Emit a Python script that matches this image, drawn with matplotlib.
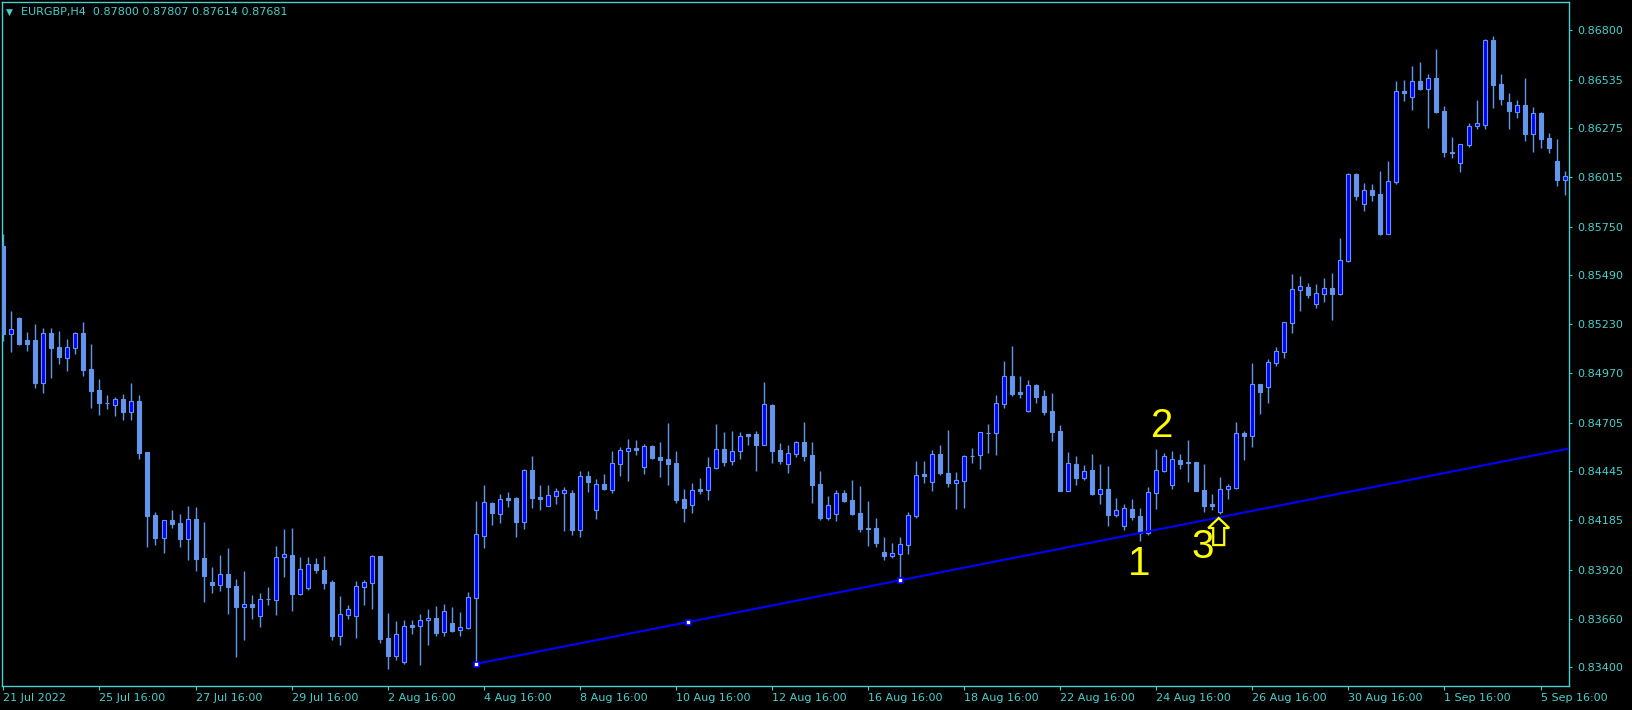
import matplotlib
matplotlib.use("Agg")
import matplotlib.pyplot as plt
from matplotlib import transforms
from matplotlib.patches import Polygon

# colours of the terminal scheme
fg = "#48D1CC"       # frame, ticks, text
bull_fill = "#0000FF"
bear_fill = "#6495ED"
wick_col = "#6495ED"
line_col = "#0000FF"
note_col = "#FFFF00"

symbol = "EURGBP,H4"
last_ohlc = ["0.87800", "0.87807", "0.87614", "0.87681"]

# H4 bars, 21 Jul 2022 16:00 .. 6 Sep 2022 04:00
opens = [
    0.85648, 0.85180, 0.85263, 0.85144, 0.85146, 0.84918, 0.85183, 0.85109, 0.85052, 0.85105,
    0.85183, 0.84991, 0.84879, 0.84812, 0.84799, 0.84831, 0.84764, 0.84821, 0.84549, 0.84211,
    0.84091, 0.84184, 0.84170, 0.84086, 0.84191, 0.83983, 0.83855, 0.83841, 0.83898, 0.83834,
    0.83723, 0.83738, 0.83675, 0.83764, 0.83761, 0.83987, 0.83999, 0.83789, 0.83825, 0.83951,
    0.83919, 0.83855, 0.83569, 0.83681, 0.83675, 0.83830, 0.83851, 0.83994, 0.83556, 0.83462,
    0.83430, 0.83626, 0.83622, 0.83651, 0.83663, 0.83587, 0.83636, 0.83597, 0.83611, 0.83771,
    0.84102, 0.84277, 0.84219, 0.84303, 0.84303, 0.84177, 0.84453, 0.84308, 0.84261, 0.84315,
    0.84330, 0.84330, 0.84132, 0.84421, 0.84239, 0.84378, 0.84346, 0.84485, 0.84554, 0.84570,
    0.84469, 0.84581, 0.84522, 0.84511, 0.84490, 0.84298, 0.84267, 0.84351, 0.84347, 0.84465,
    0.84565, 0.84502, 0.84556, 0.84645, 0.84645, 0.84588, 0.84799, 0.84559, 0.84486, 0.84540,
    0.84602, 0.84533, 0.84378, 0.84198, 0.84219, 0.84330, 0.84292, 0.84223, 0.84142, 0.84143,
    0.84015, 0.83994, 0.84004, 0.84052, 0.84207, 0.84431, 0.84389, 0.84538, 0.84437, 0.84383,
    0.84394, 0.84527, 0.84533, 0.84650, 0.84648, 0.84806, 0.84952, 0.84869, 0.84769, 0.84906,
    0.84847, 0.84767, 0.84661, 0.84342, 0.84485, 0.84412, 0.84453, 0.84326, 0.84351, 0.84214,
    0.84155, 0.84245, 0.84207, 0.84118, 0.84331, 0.84449, 0.84374, 0.84506, 0.84495, 0.84495,
    0.84346, 0.84271, 0.84230, 0.84353, 0.84358, 0.84650, 0.84636, 0.84911, 0.84897, 0.85025,
    0.85084, 0.85238, 0.85414, 0.85429, 0.85340, 0.85392, 0.85424, 0.85392, 0.85568, 0.86032,
    0.85873, 0.85946, 0.85925, 0.85713, 0.85991, 0.86475, 0.86444, 0.86528, 0.86487, 0.86544,
    0.86368, 0.86147, 0.86092, 0.86188, 0.86286, 0.86295, 0.86747, 0.86512, 0.86416, 0.86362,
    0.86400, 0.86245, 0.86357, 0.86224, 0.86101, 0.86001,
]
highs = [
    0.85712, 0.85301, 0.85269, 0.85189, 0.85231, 0.85210, 0.85210, 0.85194, 0.85151, 0.85189,
    0.85242, 0.85125, 0.84938, 0.84853, 0.84842, 0.84858, 0.84917, 0.84853, 0.84549, 0.84229,
    0.84186, 0.84238, 0.84218, 0.84261, 0.84255, 0.84175, 0.83935, 0.83999, 0.84036, 0.83871,
    0.83914, 0.83786, 0.83796, 0.83828, 0.84047, 0.84138, 0.84143, 0.83988, 0.83988, 0.83983,
    0.83994, 0.83866, 0.83780, 0.83731, 0.83860, 0.83866, 0.83999, 0.83996, 0.83690, 0.83647,
    0.83652, 0.83652, 0.83684, 0.83711, 0.83727, 0.83738, 0.83722, 0.83695, 0.83802, 0.84287,
    0.84372, 0.84282, 0.84325, 0.84335, 0.84308, 0.84458, 0.84527, 0.84372, 0.84372, 0.84357,
    0.84362, 0.84345, 0.84447, 0.84447, 0.84405, 0.84431, 0.84554, 0.84575, 0.84618, 0.84613,
    0.84591, 0.84586, 0.84602, 0.84703, 0.84554, 0.84351, 0.84383, 0.84410, 0.84522, 0.84698,
    0.84655, 0.84661, 0.84655, 0.84647, 0.84661, 0.84922, 0.84805, 0.84597, 0.84586, 0.84607,
    0.84709, 0.84602, 0.84447, 0.84314, 0.84346, 0.84346, 0.84399, 0.84367, 0.84287, 0.84196,
    0.84095, 0.84063, 0.84095, 0.84229, 0.84501, 0.84501, 0.84559, 0.84586, 0.84666, 0.84442,
    0.84533, 0.84570, 0.84657, 0.84698, 0.84853, 0.85034, 0.85114, 0.84954, 0.84933, 0.84911,
    0.84879, 0.84863, 0.84693, 0.84549, 0.84527, 0.84479, 0.84538, 0.84485, 0.84474, 0.84303,
    0.84271, 0.84298, 0.84250, 0.84362, 0.84565, 0.84543, 0.84554, 0.84538, 0.84613, 0.84497,
    0.84485, 0.84325, 0.84415, 0.84378, 0.84709, 0.84661, 0.85023, 0.84913, 0.85045, 0.85109,
    0.85244, 0.85498, 0.85487, 0.85450, 0.85445, 0.85477, 0.85504, 0.85690, 0.86037, 0.86037,
    0.85984, 0.85978, 0.86048, 0.86101, 0.86528, 0.86533, 0.86608, 0.86629, 0.86565, 0.86699,
    0.86394, 0.86229, 0.86194, 0.86304, 0.86427, 0.86750, 0.86768, 0.86565, 0.86464, 0.86427,
    0.86544, 0.86389, 0.86362, 0.86250, 0.86218, 0.86048,
]
lows = [
    0.85142, 0.85084, 0.85119, 0.85089, 0.84892, 0.84865, 0.84945, 0.85020, 0.84982, 0.85073,
    0.84956, 0.84785, 0.84748, 0.84780, 0.84742, 0.84719, 0.84719, 0.84513, 0.84043, 0.84052,
    0.84011, 0.84145, 0.84043, 0.83974, 0.83915, 0.83750, 0.83798, 0.83809, 0.83686, 0.83457,
    0.83547, 0.83659, 0.83617, 0.83734, 0.83681, 0.83883, 0.83702, 0.83786, 0.83814, 0.83905,
    0.83819, 0.83546, 0.83521, 0.83658, 0.83556, 0.83732, 0.83711, 0.83530, 0.83392, 0.83439,
    0.83419, 0.83579, 0.83414, 0.83521, 0.83569, 0.83569, 0.83588, 0.83569, 0.83606, 0.83418,
    0.84038, 0.84159, 0.84170, 0.84255, 0.84095, 0.84138, 0.84250, 0.84239, 0.84259, 0.84271,
    0.84127, 0.84106, 0.84095, 0.84335, 0.84191, 0.84346, 0.84330, 0.84421, 0.84394, 0.84533,
    0.84431, 0.84512, 0.84415, 0.84372, 0.84277, 0.84175, 0.84223, 0.84325, 0.84292, 0.84458,
    0.84474, 0.84479, 0.84511, 0.84586, 0.84447, 0.84586, 0.84490, 0.84485, 0.84437, 0.84522,
    0.84501, 0.84277, 0.84186, 0.84186, 0.84180, 0.84284, 0.84214, 0.84122, 0.84047, 0.84042,
    0.83972, 0.83983, 0.83864, 0.84004, 0.84196, 0.84383, 0.84341, 0.84426, 0.84362, 0.84245,
    0.84250, 0.84490, 0.84458, 0.84543, 0.84534, 0.84785, 0.84849, 0.84838, 0.84764, 0.84812,
    0.84748, 0.84609, 0.84340, 0.84340, 0.84374, 0.84401, 0.84321, 0.84273, 0.84155, 0.84203,
    0.84134, 0.84184, 0.84075, 0.84107, 0.84246, 0.84444, 0.84353, 0.84460, 0.84390, 0.84340,
    0.84230, 0.84241, 0.84219, 0.84299, 0.84353, 0.84506, 0.84577, 0.84753, 0.84812, 0.85009,
    0.85052, 0.85185, 0.85302, 0.85370, 0.85317, 0.85349, 0.85253, 0.85386, 0.85562, 0.85893,
    0.85834, 0.85888, 0.85706, 0.85711, 0.85980, 0.86421, 0.86373, 0.86480, 0.86277, 0.86357,
    0.86122, 0.86117, 0.86042, 0.86177, 0.86272, 0.86272, 0.86384, 0.86400, 0.86272, 0.86331,
    0.86208, 0.86149, 0.86170, 0.86144, 0.85968, 0.85920,
]
closes = [
    0.85178, 0.85203, 0.85125, 0.85126, 0.84918, 0.85183, 0.85105, 0.85057, 0.85109, 0.85183,
    0.84988, 0.84876, 0.84812, 0.84810, 0.84831, 0.84764, 0.84821, 0.84545, 0.84209, 0.84091,
    0.84184, 0.84166, 0.84086, 0.84191, 0.83979, 0.83889, 0.83841, 0.83898, 0.83830, 0.83723,
    0.83738, 0.83723, 0.83764, 0.83765, 0.83988, 0.84003, 0.83793, 0.83924, 0.83951, 0.83921,
    0.83851, 0.83567, 0.83684, 0.83709, 0.83834, 0.83855, 0.83994, 0.83551, 0.83462, 0.83578,
    0.83620, 0.83615, 0.83652, 0.83663, 0.83585, 0.83700, 0.83595, 0.83615, 0.83775, 0.84111,
    0.84282, 0.84223, 0.84298, 0.84294, 0.84175, 0.84453, 0.84303, 0.84298, 0.84319, 0.84341,
    0.84345, 0.84132, 0.84421, 0.84389, 0.84378, 0.84351, 0.84490, 0.84559, 0.84570, 0.84559,
    0.84581, 0.84517, 0.84506, 0.84485, 0.84292, 0.84250, 0.84346, 0.84341, 0.84469, 0.84565,
    0.84495, 0.84554, 0.84634, 0.84634, 0.84586, 0.84805, 0.84554, 0.84501, 0.84543, 0.84602,
    0.84527, 0.84372, 0.84196, 0.84266, 0.84330, 0.84287, 0.84218, 0.84138, 0.84140, 0.84063,
    0.83994, 0.84010, 0.84058, 0.84212, 0.84426, 0.84421, 0.84538, 0.84437, 0.84383, 0.84399,
    0.84527, 0.84525, 0.84655, 0.84648, 0.84808, 0.84952, 0.84858, 0.84858, 0.84904, 0.84844,
    0.84764, 0.84657, 0.84342, 0.84490, 0.84412, 0.84447, 0.84326, 0.84351, 0.84214, 0.84239,
    0.84250, 0.84203, 0.84118, 0.84335, 0.84453, 0.84527, 0.84511, 0.84486, 0.84488, 0.84342,
    0.84262, 0.84262, 0.84351, 0.84367, 0.84650, 0.84636, 0.84911, 0.84870, 0.85029, 0.85087,
    0.85242, 0.85418, 0.85434, 0.85386, 0.85397, 0.85424, 0.85392, 0.85573, 0.86032, 0.85914,
    0.85946, 0.85920, 0.85712, 0.85994, 0.86475, 0.86465, 0.86528, 0.86485, 0.86544, 0.86362,
    0.86149, 0.86146, 0.86192, 0.86288, 0.86304, 0.86747, 0.86507, 0.86432, 0.86368, 0.86400,
    0.86245, 0.86357, 0.86218, 0.86170, 0.86000, 0.86021,
]

# trend line anchors: (bar, price) at the two lows
trend_bars = [59, 112]
trend_prices = [0.83418, 0.83864]

# price scale labels
price_ticks = [0.86800, 0.86535, 0.86275, 0.86015, 0.85750, 0.85490, 0.85230,
               0.84970, 0.84705, 0.84445, 0.84185, 0.83920, 0.83660, 0.83400]

# time scale labels, one every 12 bars
time_labels = ["21 Jul 2022", "25 Jul 16:00", "27 Jul 16:00", "29 Jul 16:00",
               "2 Aug 16:00", "4 Aug 16:00", "8 Aug 16:00", "10 Aug 16:00",
               "12 Aug 16:00", "16 Aug 16:00", "18 Aug 16:00", "22 Aug 16:00",
               "24 Aug 16:00", "26 Aug 16:00", "30 Aug 16:00", "1 Sep 16:00",
               "5 Sep 16:00"]
bars_per_label = 12

# the hand-placed numbers on the chart (text, bar, baseline price)
notes = [("1", 141.9, 0.83892), ("2", 144.8, 0.84630), ("3", 149.8, 0.83981)]
arrow_at = (151.8, 0.84196)

W, H = 1633, 710
fig = plt.figure(figsize=(W / 100, H / 100), dpi=100, facecolor="black")
left_px, right_px, top_px, bot_px = 2.5, 1569.3, 2.0, 686.0
ax = fig.add_axes([left_px / W, (H - bot_px) / H,
                   (right_px - left_px) / W, (bot_px - top_px) / H])
ax.set_facecolor("black")

n = len(opens)
xs = list(range(n))

# candles
ax.vlines(xs, lows, highs, color=wick_col, linewidth=1.0, zorder=2)
bottoms = [min(o, c) for o, c in zip(opens, closes)]
heights = [abs(c - o) for o, c in zip(opens, closes)]
fills = [bull_fill if c > o else bear_fill for o, c in zip(opens, closes)]
ax.bar(xs, heights, bottom=bottoms, width=0.5, color=fills,
       edgecolor=bear_fill, linewidth=0.8, zorder=3)

# scales: 8 px per bar, price range of the window
ax.set_xlim(-0.11, 195.59)
ax.set_ylim(0.83300, 0.86949)

# trend line as a ray to the right edge
slope = (trend_prices[1] - trend_prices[0]) / (trend_bars[1] - trend_bars[0])
x_end = ax.get_xlim()[1]
ax.plot([trend_bars[0], x_end],
        [trend_prices[0], trend_prices[0] + slope * (x_end - trend_bars[0])],
        color=line_col, linewidth=1.5, zorder=4, solid_capstyle="butt")
mid_bar = (trend_bars[0] + trend_bars[1]) / 2
ax.plot(trend_bars + [mid_bar],
        trend_prices + [(trend_prices[0] + trend_prices[1]) / 2],
        linestyle="none", marker="s", markersize=3.6, markerfacecolor="white",
        markeredgecolor=line_col, markeredgewidth=1.2, zorder=5)

# the numbers and the up arrow
for txt, bx, py in notes:
    ax.text(bx, py, txt, color=note_col, fontsize=29, family="Liberation Sans",
            ha="center", va="baseline", zorder=6)
arrow_pts = [(0, 0), (10.5, -10), (5.5, -10), (5.5, -27), (-5.5, -27),
             (-5.5, -10), (-10.5, -10)]
arrow_tr = transforms.ScaledTranslation(arrow_at[0], arrow_at[1], ax.transData)
ax.add_patch(Polygon(arrow_pts, closed=True, facecolor="black",
                     edgecolor=note_col, linewidth=1.6, transform=arrow_tr,
                     zorder=6))

# frame and axes
for sp in ax.spines.values():
    sp.set_color(fg)
    sp.set_linewidth(1.0)

ax.yaxis.tick_right()
ax.set_yticks(price_ticks)
ax.set_yticklabels([f"{p:.5f}" for p in price_ticks])
ax.tick_params(axis="y", colors=fg, labelcolor=fg, labelsize=8,
               length=2.5, width=0.8, pad=3.5, direction="out")

ax.set_xticks(list(range(0, bars_per_label * len(time_labels), bars_per_label)))
ax.set_xticklabels(time_labels, ha="left")
ax.tick_params(axis="x", colors=fg, labelcolor=fg, labelsize=8,
               length=3, width=0.8, pad=2, direction="out")
for lab in ax.get_xticklabels():
    lab.set_x(lab.get_position()[0])

# header line in the top-left corner
fig.text(9 / W, 1 - 12 / H, "\u25bc", color=fg, fontsize=6.5,
         ha="center", va="center")
fig.text(21 / W, 1 - 12 / H, symbol + "  " + " ".join(last_ohlc), color=fg,
         fontsize=8, ha="left", va="center")

fig.savefig("out.png", dpi=100, facecolor="black")
